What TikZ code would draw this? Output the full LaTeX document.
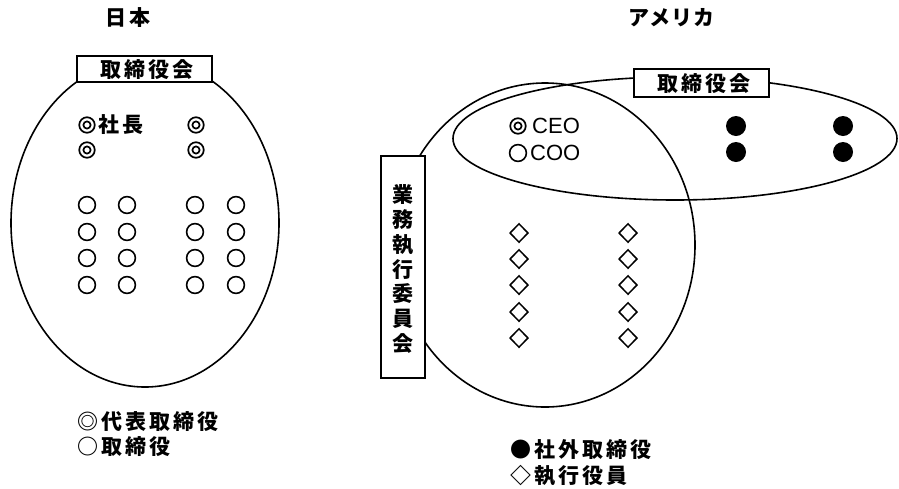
\documentclass[tikz,border=0pt]{standalone}
\usepackage{fontspec}
\setmainfont{Liberation Sans}
\newfontfamily\jp{Noto Sans CJK JP}[LetterSpace=15]
\newfontfamily\jpk{Noto Sans CJK JP}[LetterSpace=6]
\newfontfamily\jpn{Noto Sans CJK JP}
\usetikzlibrary{shapes.geometric}
\tikzset{
  jt/.style={font=\jp\bfseries\fontsize{21}{24}\selectfont, inner sep=0pt},
  jtk/.style={font=\jpk\bfseries\fontsize{21}{24}\selectfont, inner sep=0pt},
  jtn/.style={font=\jpn\bfseries\fontsize{21}{24}\selectfont, inner sep=0pt},
  lt/.style={font=\fontsize{22}{24}\selectfont, inner sep=0pt, anchor=west},
  frame/.style={draw, fill=white, line width=1.5pt},
  outline/.style={line width=1.6pt},
  dblc/.style={circle, draw, line width=1.7pt, minimum size=15.5pt, inner sep=0pt,
    path picture={\draw[line width=1.7pt] (path picture bounding box.center) circle (3.6pt);}},
  ring/.style={circle, draw, line width=1.6pt, minimum size=16.8pt, inner sep=0pt},
  dot/.style={circle, fill=black, minimum size=20pt, inner sep=0pt},
  dia/.style={diamond, draw, line width=1.5pt, minimum width=18.5pt, minimum height=19pt, inner sep=0pt},
}
\begin{document}
\begin{tikzpicture}[x=1pt,y=-1pt]
\useasboundingbox (0,0) rectangle (899,488);
% titles
\node[jt, anchor=west] (tjp) at (105,18) {日本};
\node[jtk, anchor=west] (tus) at (628,18) {アメリカ};
% ---------- Japan ----------
\draw[outline] (145,223) ellipse [x radius=134, y radius=164];
\node[frame, minimum width=135pt, minimum height=26pt, inner sep=0pt] (jbox) at (144.5,69) {};
\node[jt] (jboxt) at (147,70) {取締役会};
\node[dblc] (jp1) at (87,125) {};
\node[jt, anchor=west] (shacho) at (98,125) {社長};
\node[dblc] (jp2) at (196,125) {};
\node[dblc] (jp3) at (87,150) {};
\node[dblc] (jp4) at (196,150) {};
\foreach \c [count=\i] in {87,127,195,236}{
  \foreach \r [count=\j] in {205,232,258,285}{
    \node[ring] (jr\i\j) at (\c,\r) {};
  }
}
\node[jt, anchor=west] (jl1) at (77,422) {◎代表取締役};
\node[jt, anchor=west] (jl2) at (77,447) {○取締役};
% ---------- USA ----------
\draw[outline] (545,245) ellipse [x radius=150, y radius=162];
\begin{scope}
\clip (0,0) rectangle (899,488);
\draw[outline] (675,138.5) ellipse [x radius=222, y radius=61.5];
\end{scope}
\node[frame, minimum width=135pt, minimum height=28pt, inner sep=0pt] (ubox) at (701.5,83) {};
\node[jt] (uboxt) at (704,84) {取締役会};
\node[frame, minimum width=44pt, minimum height=222pt, inner sep=0pt] (vbox) at (403,267) {};
\foreach \ch [count=\k from 0] in {業,務,執,行,委,員,会}{
  \node[jtn] (v\k) at (403,{195+24.7*\k}) {\ch};
}
\node[dblc] (ceo) at (518,126) {};
\node[lt] (ceot) at (532,126) {CEO};
\node[ring] (coo) at (518,153) {};
\node[lt] (coot) at (530,153) {COO};
\node[dot] (o1) at (736,126) {};
\node[dot] (o2) at (736,152) {};
\node[dot] (o3) at (843,126) {};
\node[dot] (o4) at (843,152) {};
\foreach \c [count=\i] in {519,628}{
  \foreach \r [count=\j] in {233,259,285,312,338}{
    \node[dia] (d\i\j) at (\c,\r) {};
  }
}
\node[jt, anchor=west] (ul1) at (510,450) {●社外取締役};
\node[jt, anchor=west] (ul2) at (510,476) {◇執行役員};
\end{tikzpicture}
\end{document}
